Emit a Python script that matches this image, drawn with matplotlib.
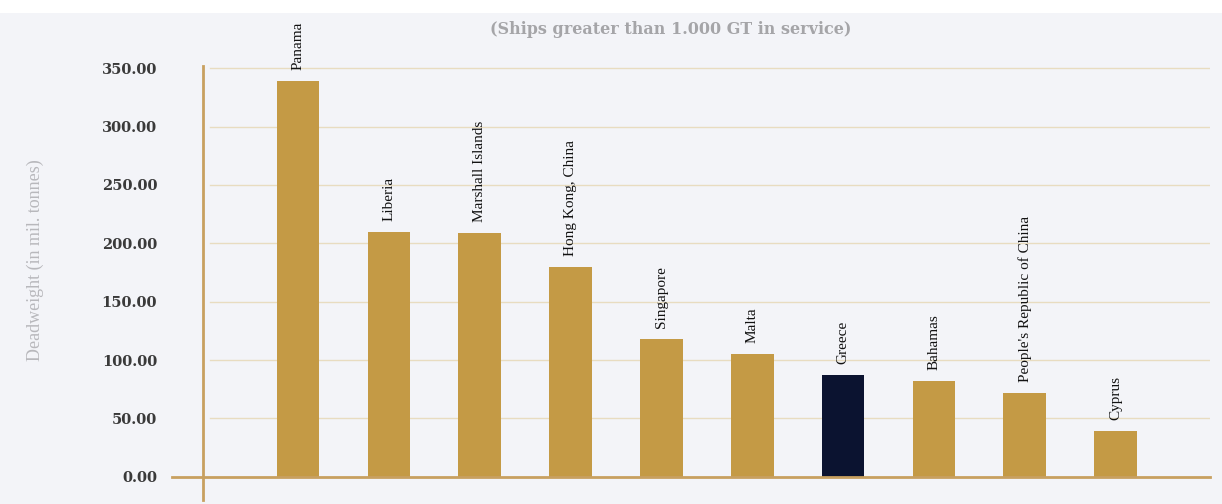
import matplotlib.pyplot as plt
from matplotlib.patches import Rectangle

countries = ["Panama", "Liberia", "Marshall Islands", "Hong Kong, China", "Singapore",
             "Malta", "Greece", "Bahamas", "People's Republic of China", "Cyprus"]
deadweight = [339, 210, 209, 180, 118, 105, 87, 82, 72, 39]
highlight = "Greece"
yticks = [0, 50, 100, 150, 200, 250, 300, 350]

gold = "#c49a45"
navy = "#0b1330"
bg = "#f3f4f8"

fig = plt.figure(figsize=(12.22, 5.04), dpi=100, facecolor=bg)
# white strip at the top
fig.patches.append(Rectangle((0, 1 - 13 / 504), 1, 13 / 504, transform=fig.transFigure,
                             facecolor="white", edgecolor="none", zorder=0))

ax = fig.add_axes([203 / 1222, 4 / 504, 1007 / 1222, 434 / 504])
ax.set_facecolor(bg)

x = list(range(len(countries)))
colors = [navy if c == highlight else gold for c in countries]
bars = ax.bar(x, deadweight, width=0.47, color=colors, zorder=3)

for xi, v, name in zip(x, deadweight, countries):
    ax.annotate(name, (xi, v), xytext=(0, 8), textcoords="offset points",
                rotation=90, ha="center", va="bottom", fontsize=11,
                family="Liberation Serif", color="#111111", annotation_clip=False)

ax.set_xlim(-1.046, 10.04)
ax.set_ylim(-20, 352)
ax.set_yticks(yticks)
ax.set_yticklabels([f"{t:.2f}" for t in yticks], family="DejaVu Serif",
                   fontweight="bold", fontsize=10.5, color="#3a3a3a")
ax.tick_params(axis="y", length=0, pad=33)
ax.set_xticks([])

for y in yticks[1:]:
    ax.axhline(y, xmin=0.007, xmax=1, color="#e8dcc0", lw=1, zorder=1)
ax.plot([-1.39, 10.04], [0, 0], color="#c8a060", lw=2, clip_on=False, zorder=4)

for s in ["top", "right", "bottom"]:
    ax.spines[s].set_visible(False)
ax.spines["left"].set_color("#c8a060")
ax.spines["left"].set_linewidth(2)

fig.text(35 / 1222, 1 - 260 / 504, "Deadweight (in mil. tonnes)", rotation=90,
         ha="center", va="center", fontsize=13, family="Liberation Serif", color="#b8b8bc")
fig.text(671 / 1222, 1 - 30 / 504, "(Ships greater than 1.000 GT in service)",
         ha="center", va="center", fontsize=11.5, family="DejaVu Serif",
         fontweight="bold", color="#a5a5a8")

fig.savefig("out.png", dpi=100, facecolor=bg)
